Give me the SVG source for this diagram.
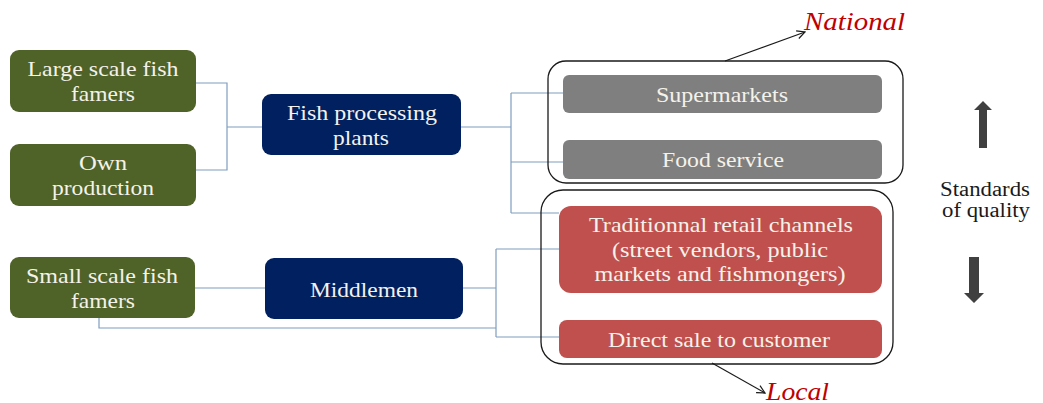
<svg xmlns="http://www.w3.org/2000/svg" width="1043" height="403" viewBox="0 0 1043 403">
<defs>
<style>
text{font-family:'Liberation Serif',serif}
.t{font-size:22px;fill:#F4F2EA;text-anchor:middle}
.green{fill:#4F6228}
.navy{fill:#002060}
.gray{fill:#7F7F7F}
.red{fill:#C0504D}
.conn{fill:none;stroke:#7F9DBF;stroke-width:1.2}
.group{fill:none;stroke:#1A1A1A;stroke-width:1.3}
.lbl{font-size:25px;font-style:italic;fill:#C00000}
.side{font-size:20px;fill:#1A1A1A;text-anchor:middle}
.arw{fill:#404040}
</style>
<marker id="open" viewBox="0 0 10 10" refX="9" refY="5" markerWidth="10" markerHeight="10" markerUnits="userSpaceOnUse" orient="auto">
<path d="M1,1 L9,5 L1,9" fill="none" stroke="#1A1A1A" stroke-width="1.2"/>
</marker>
</defs>
<rect width="1043" height="403" fill="#FFFFFF"/>

<g id="connectors">
<path class="conn" d="M196,83 H227 V170 H196 M227,127 H262"/>
<path class="conn" d="M461,127 H511 M511,93 V213 M511,93 H563 M511,162 H563 M511,213 H559"/>
<path class="conn" d="M195,288 H265 M463,288 H496 M496,249 V337 M496,249 H559 M496,337 H559 M99,318 V328 H496"/>
</g>

<g id="group-national">
<rect class="group" x="548" y="61" width="355" height="122" rx="18"/>
</g>
<g id="group-local">
<rect class="group" x="541" y="190" width="352" height="174" rx="22"/>
</g>

<g id="large-scale">
<rect class="green" x="10" y="50" width="186" height="62" rx="9"/>
<text class="t" x="103" y="76" textLength="151" lengthAdjust="spacingAndGlyphs">Large scale fish</text>
<text class="t" x="103" y="101" textLength="64" lengthAdjust="spacingAndGlyphs">famers</text>
</g>
<g id="own-production">
<rect class="green" x="10" y="144" width="186" height="62" rx="9"/>
<text class="t" x="103" y="170" textLength="48" lengthAdjust="spacingAndGlyphs">Own</text>
<text class="t" x="103" y="195" textLength="102" lengthAdjust="spacingAndGlyphs">production</text>
</g>
<g id="fish-processing">
<rect class="navy" x="262" y="94" width="199" height="61" rx="9"/>
<text class="t" x="362" y="120" textLength="150" lengthAdjust="spacingAndGlyphs">Fish processing</text>
<text class="t" x="361" y="145" textLength="56" lengthAdjust="spacingAndGlyphs">plants</text>
</g>
<g id="small-scale">
<rect class="green" x="10" y="257" width="185" height="61" rx="9"/>
<text class="t" x="102" y="283" textLength="152" lengthAdjust="spacingAndGlyphs">Small scale fish</text>
<text class="t" x="103" y="308" textLength="64" lengthAdjust="spacingAndGlyphs">famers</text>
</g>
<g id="middlemen">
<rect class="navy" x="265" y="258" width="198" height="61" rx="9"/>
<text class="t" x="364" y="297" textLength="108" lengthAdjust="spacingAndGlyphs">Middlemen</text>
</g>
<g id="supermarkets">
<rect class="gray" x="563" y="75" width="319" height="38" rx="6"/>
<text class="t" x="722" y="102" textLength="132" lengthAdjust="spacingAndGlyphs">Supermarkets</text>
</g>
<g id="food-service">
<rect class="gray" x="563" y="140" width="319" height="39" rx="6"/>
<text class="t" x="723" y="167" textLength="122" lengthAdjust="spacingAndGlyphs">Food service</text>
</g>
<g id="traditional">
<rect class="red" x="559" y="206" width="323" height="87" rx="12"/>
<text class="t" x="721" y="232" textLength="264" lengthAdjust="spacingAndGlyphs">Traditionnal retail channels</text>
<text class="t" x="720" y="257" textLength="216" lengthAdjust="spacingAndGlyphs">(street vendors, public</text>
<text class="t" x="720" y="281" textLength="251" lengthAdjust="spacingAndGlyphs">markets and fishmongers)</text>
</g>
<g id="direct-sale">
<rect class="red" x="559" y="320" width="323" height="38" rx="8"/>
<text class="t" x="719" y="347" textLength="222" lengthAdjust="spacingAndGlyphs">Direct sale to customer</text>
</g>

<g id="national-label">
<line x1="725" y1="61" x2="805" y2="32" stroke="#1A1A1A" stroke-width="1.2" marker-end="url(#open)"/>
<text class="lbl" x="804" y="30" textLength="101" lengthAdjust="spacingAndGlyphs">National</text>
</g>
<g id="local-label">
<line x1="712" y1="363" x2="765" y2="393" stroke="#1A1A1A" stroke-width="1.2" marker-end="url(#open)"/>
<text class="lbl" x="766" y="400" textLength="63" lengthAdjust="spacingAndGlyphs">Local</text>
</g>

<g id="standards">
<path class="arw" d="M979,148 V110 H974 L983,101 L992,110 H987 V148 Z"/>
<text class="side" x="985" y="196" textLength="90" lengthAdjust="spacingAndGlyphs">Standards</text>
<text class="side" x="986" y="217" textLength="88" lengthAdjust="spacingAndGlyphs">of quality</text>
<path class="arw" d="M969,257 V293 H964 L974,303 L984,293 H979 V257 Z"/>
</g>
</svg>
